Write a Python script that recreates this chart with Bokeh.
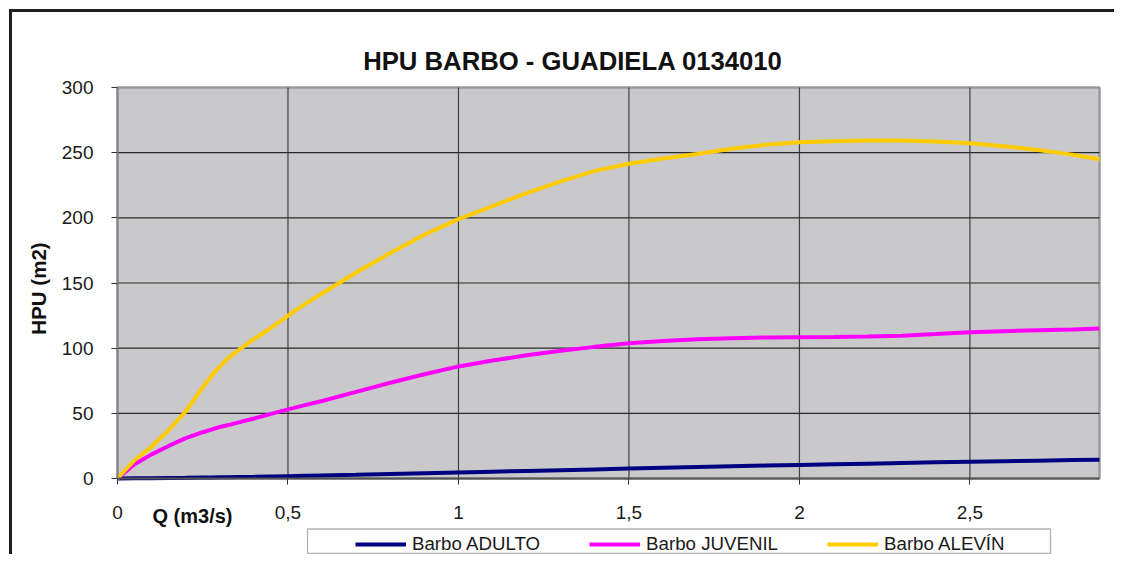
from math import pi
from bokeh.plotting import figure
from bokeh.models import (Range1d, FixedTicker, Legend, LegendItem, Label,
                          BoxAnnotation)
from bokeh.embed import file_html
from bokeh.resources import INLINE

# ---------------- data ----------------
title_text = "HPU BARBO - GUADIELA 0134010"
x_label = "Q (m3/s)"
y_label = "HPU (m2)"
series_names = ["Barbo ADULTO", "Barbo JUVENIL", "Barbo ALEVÍN"]
series_colors = ["#000080", "#FF00FF", "#FFCC00"]

q = [0, 0.05, 0.1, 0.15, 0.2, 0.25, 0.275, 0.3, 0.325, 0.35, 0.4, 0.45,
     0.5, 0.55, 0.6, 0.7, 0.8, 0.9, 1.0, 1.1, 1.2, 1.3, 1.4, 1.5, 1.6, 1.7,
     1.8, 1.9, 2.0, 2.1, 2.2, 2.3, 2.4, 2.5, 2.6, 2.7, 2.8, 2.88]
adulto = [0, 0.1, 0.2, 0.4, 0.5, 0.7, 0.8, 0.9, 1.0, 1.1, 1.3, 1.55,
          1.8, 2.05, 2.3, 2.8, 3.4, 4.0, 4.6, 5.2, 5.8, 6.4, 7.0, 7.6, 8.2,
          8.8, 9.4, 9.9, 10.4, 10.9, 11.4, 11.9, 12.4, 12.9, 13.3, 13.7,
          14.1, 14.4]
juvenil = [0, 11, 18.5, 25, 31, 35.5, 37.5, 39.5, 41, 42.7, 46, 49.6,
           53, 56.3, 59.5, 66.5, 73.5, 80, 86, 90.5, 94.5, 98, 101, 103.8,
           105.5, 106.8, 107.7, 108.2, 108.4, 108.6, 108.9, 109.5, 110.8,
           112.2, 113, 113.8, 114.4, 115]
alevin = [0, 14, 24.5, 37, 51.5, 70, 78.5, 86, 92.5, 97.5, 107, 115.5,
          125, 134, 142, 158, 173, 187, 199, 209, 219, 228, 236, 241.5,
          245.5, 249, 253, 256, 258, 258.8, 259.3, 259.3, 258.6, 257.3, 255,
          252, 248.5, 245]

x_ticks = [0, 0.5, 1, 1.5, 2, 2.5]
x_tick_labels = ["0", "0,5", "1", "1,5", "2", "2,5"]
y_ticks = [0, 50, 100, 150, 200, 250, 300]
x_max = 2.88
y_max = 300

# ---------------- layout (pixels of the 1114x554 canvas) ----------------
W, H = 1114, 554
X0_PX, X1_PX = 117, 1099       # plot area left / right
Y0_PX, Y1_PX = 478, 87         # plot area bottom / top
SX = (X1_PX - X0_PX) / x_max
SY = (Y0_PX - Y1_PX) / y_max


def dx(px):
    return (px - X0_PX) / SX


def dy(py):
    return (Y0_PX - py) / SY


FONT = "Liberation Sans"
TXT = "#1a1a1a"

p = figure(width=W, height=H, output_backend="svg", toolbar_location=None,
           x_range=Range1d(dx(0), dx(W)), y_range=Range1d(dy(H), dy(0)),
           min_border=0)
p.background_fill_alpha = 0
p.border_fill_alpha = 0
p.outline_line_color = None
# outer chart frame (left and top edges) as the element background
p.styles = {
    "background": "linear-gradient(#1e1e1e, #1e1e1e) 9px 9px / 3px 100% no-repeat, "
                  "linear-gradient(#1e1e1e, #1e1e1e) 9px 9px / 100% 3px no-repeat, white"
}
p.xgrid.visible = False
p.ygrid.visible = False

# plot area
p.quad(left=0, right=x_max, bottom=0, top=y_max, fill_color="#C9C9CB",
       line_color="#9a9a9a", line_width=2.5)
# grid lines
vx = x_ticks[1:]
p.segment(x0=vx, y0=[0] * len(vx), x1=vx, y1=[y_max] * len(vx),
          line_color="#404040", line_width=1.2)
hy = y_ticks[1:-1]
p.segment(x0=[0] * len(hy), y0=hy, x1=[x_max] * len(hy), y1=hy,
          line_color="#2a2a2a", line_width=1.2)

# axes crossing at the origin
xax = p.xaxis[0]
yax = p.yaxis[0]
xax.fixed_location = 0
yax.fixed_location = 0
xax.bounds = (0, x_max)
yax.bounds = (0, y_max)
xax.ticker = FixedTicker(ticks=x_ticks)
xax.major_label_overrides = {t: l for t, l in zip(x_ticks, x_tick_labels)}
yax.ticker = FixedTicker(ticks=y_ticks)
for ax in (xax, yax):
    ax.major_label_text_font = FONT
    ax.major_label_text_font_size = "19px"
    ax.major_label_text_color = TXT
    ax.major_tick_in = 0
    ax.major_tick_out = 6
    ax.minor_tick_line_color = None
    ax.major_tick_line_color = "#333333"
yax.major_label_standoff = 18
xax.major_label_standoff = 21
yax.axis_line_color = "#8a8a8a"
yax.axis_line_width = 2
xax.axis_line_color = "#555555"
xax.axis_line_width = 2

# series
renderers = []
for name, col, ys in zip(series_names, series_colors, [adulto, juvenil, alevin]):
    r = p.line(q, ys, line_color=col, line_width=4)
    renderers.append(r)

# legend
legend = Legend(items=[LegendItem(label=n, renderers=[r])
                       for n, r in zip(series_names, renderers)],
                orientation="horizontal", location=(352, -4))
legend.label_text_font = FONT
legend.label_text_font_size = "18.7px"
legend.label_text_color = TXT
legend.glyph_width = 51
legend.glyph_height = 20
legend.label_standoff = 6
legend.spacing = 49
legend.padding = 3
legend.margin = 0
legend.border_line_alpha = 0
legend.background_fill_alpha = 0
p.add_layout(legend, "center")
p.add_layout(BoxAnnotation(left=dx(307), right=dx(1050), top=dy(528.5),
                           bottom=dy(553), fill_alpha=0,
                           line_color="#000000", line_width=1.3))

# texts
p.add_layout(Label(x=dx(572.5), y=dy(60), text=title_text, text_font=FONT,
                   text_font_size="25.7px", text_font_style="bold",
                   text_align="center", text_baseline="alphabetic",
                   text_color="#111111"))
p.add_layout(Label(x=dx(38), y=dy(288), text=y_label, text_font=FONT,
                   text_font_size="20.5px", text_font_style="bold",
                   text_align="center", text_baseline="middle", angle=pi / 2,
                   text_color="#111111"))
p.add_layout(Label(x=dx(152), y=dy(515.5), text=x_label, text_font=FONT,
                   text_font_size="20px", text_font_style="bold",
                   text_align="left", text_baseline="alphabetic",
                   text_color="#111111"))

open("out.html", "w").write(file_html(p, INLINE))
